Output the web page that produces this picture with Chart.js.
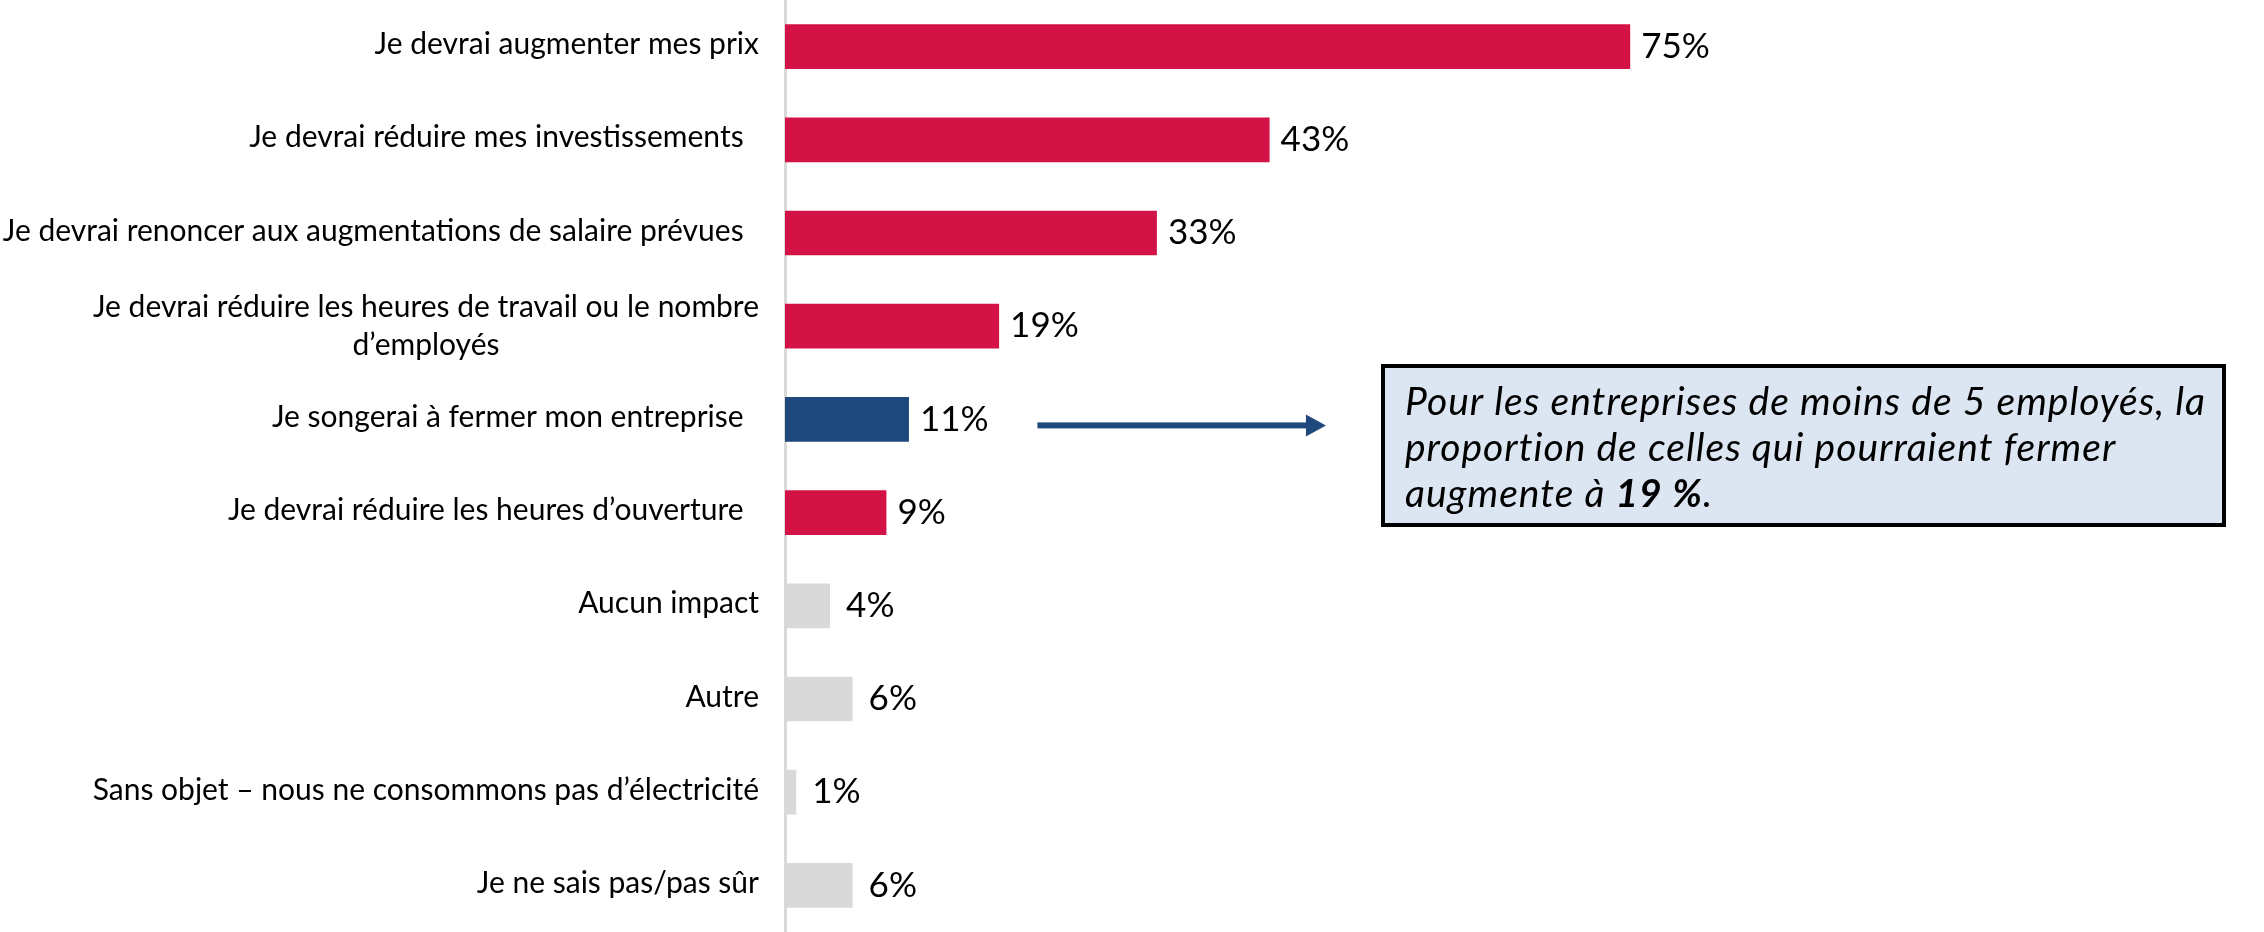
<!DOCTYPE html>
<html lang="fr">
<head>
  <meta charset="UTF-8">
  <script src="https://cdn.jsdelivr.net/npm/chart.js"></script>
  <title>Impact</title>
  <style>
    html, body { margin: 0; padding: 0; background: #fff; }
    #wrap { width: 2264px; height: 932px; }
  </style>
</head>
<body>
  <div id="wrap"><canvas id="myChart"></canvas></div>

  <script>
    // categories (top to bottom)
    const categories = [
      'Je devrai augmenter mes prix',
      'Je devrai réduire mes investissements  ',
      'Je devrai renoncer aux augmentations de salaire prévues  ',
      ['Je devrai réduire les heures de travail ou le nombre', 'd\u2019employés'],
      'Je songerai à fermer mon entreprise  ',
      'Je devrai réduire les heures d\u2019ouverture  ',
      'Aucun impact',
      'Autre',
      'Sans objet \u2013 nous ne consommons pas d\u2019électricité',
      'Je ne sais pas/pas sûr'
    ];
    const values = [75, 43, 33, 19, 11, 9, 4, 6, 1, 6];
    const valueLabels = ['75%', '43%', '33%', '19%', '11%', '9%', '4%', '6%', '1%', '6%'];
    const groups = ['red', 'red', 'red', 'red', 'blue', 'red', 'grey', 'grey', 'grey', 'grey'];
    const noteLines = [
      [['Pour les entreprises de moins de 5 employés, la', false]],
      [['proportion de celles qui pourraient fermer', false]],
      [['augmente à ', false], ['19 %', true], ['.', false]]
    ];

    const palette = { red: '#D31245', blue: '#1F497D', grey: '#D9D9D9' };
    const FONT = 'Lato, "Open Sans", sans-serif';

    // category labels, drawn by hand so the two-line one is centred like the original
    const labelPlugin = {
      id: 'labels',
      afterDraw(chart) {
        const ctx = chart.ctx;
        const y = chart.scales.y;
        const right = chart.chartArea.left - 26;
        ctx.save();
        ctx.fillStyle = '#000';
        ctx.font = '30px ' + FONT;
        ctx.textBaseline = 'middle';
        categories.forEach((lab, i) => {
          const cy = y.getPixelForValue(i);
          if (Array.isArray(lab)) {
            const w = ctx.measureText(lab[0]).width;
            const mid = right - w / 2;
            ctx.textAlign = 'center';
            ctx.fillText(lab[0], mid, cy - 19);
            ctx.fillText(lab[1], mid, cy + 19);
          } else {
            ctx.textAlign = 'right';
            ctx.fillText(lab, right, cy - 2);
          }
        });
        ctx.restore();
      }
    };

    // value labels at the end of each bar
    const valuePlugin = {
      id: 'values',
      afterDatasetsDraw(chart) {
        const ctx = chart.ctx;
        const meta = chart.getDatasetMeta(0);
        ctx.save();
        ctx.fillStyle = '#000';
        ctx.font = '35px ' + FONT;
        ctx.textAlign = 'left';
        ctx.textBaseline = 'middle';
        meta.data.forEach((bar, i) => {
          const gap = groups[i] === 'grey' ? 16 : 11;
          ctx.fillText(valueLabels[i], bar.x + gap, bar.y);
        });
        ctx.restore();
      }
    };

    // arrow + note box
    const notePlugin = {
      id: 'note',
      afterDraw(chart) {
        const ctx = chart.ctx;
        const xs = chart.scales.x;
        const ay = chart.scales.y.getPixelForValue(4) + 6;
        const x0 = xs.getPixelForValue(22.4);
        const x1 = xs.getPixelForValue(48);
        ctx.save();
        ctx.fillStyle = palette.blue;
        ctx.fillRect(x0, ay - 3, x1 - x0 - 18, 6);
        ctx.beginPath();
        ctx.moveTo(x1 - 20, ay - 11);
        ctx.lineTo(x1, ay);
        ctx.lineTo(x1 - 20, ay + 11);
        ctx.closePath();
        ctx.fill();

        const bx = 1383, by = 366, bw = 841, bh = 159;
        ctx.fillStyle = '#DCE6F2';
        ctx.fillRect(bx, by, bw, bh);
        ctx.lineWidth = 4;
        ctx.strokeStyle = '#000';
        ctx.strokeRect(bx, by, bw, bh);

        ctx.fillStyle = '#000';
        ctx.textAlign = 'left';
        ctx.textBaseline = 'middle';
        ctx.letterSpacing = '1px';
        noteLines.forEach((parts, i) => {
          let x = bx + 22;
          const yy = by + 36 + i * 46;
          parts.forEach(([txt, bold]) => {
            ctx.font = 'italic ' + (bold ? 'bold ' : '') + '39px ' + FONT;
            ctx.fillText(txt, x, yy);
            x += ctx.measureText(txt).width;
          });
        });
        ctx.restore();
      }
    };

    new Chart(document.getElementById('myChart'), {
      type: 'bar',
      data: {
        labels: categories,
        datasets: [{
          data: values,
          backgroundColor: groups.map(g => palette[g]),
          categoryPercentage: 1,
          barPercentage: 0.48
        }]
      },
      options: {
        indexAxis: 'y',
        responsive: true,
        maintainAspectRatio: false,
        animation: false,
        layout: { padding: { left: 777, right: 14, top: 0, bottom: 0 } },
        plugins: { legend: { display: false }, tooltip: { enabled: false } },
        scales: {
          x: { display: false, min: 0, max: 130 },
          y: {
            grid: { display: false },
            ticks: { display: false },
            border: { display: true, color: '#D9D9D9', width: 3 }
          }
        }
      },
      plugins: [labelPlugin, valuePlugin, notePlugin]
    });
  </script>
</body>
</html>
